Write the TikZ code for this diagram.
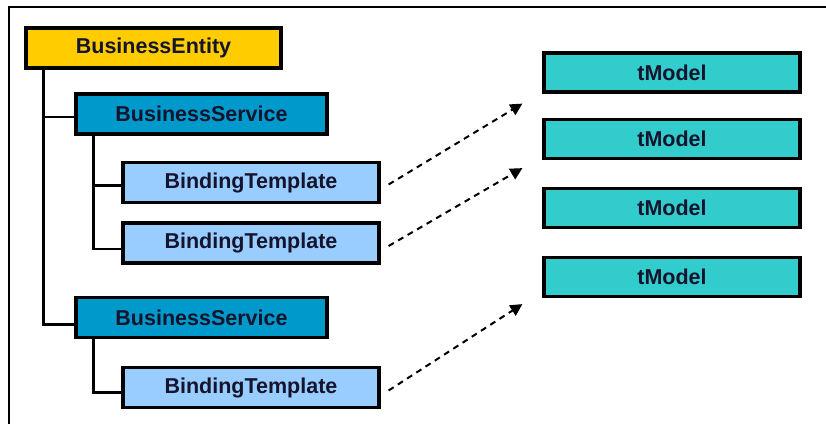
\documentclass[tikz,border=0pt]{standalone}
\usepackage{fontspec}
\setmainfont{Liberation Sans}
\usetikzlibrary{arrows.meta}

\definecolor{entityfill}{RGB}{255,204,0}
\definecolor{servicefill}{RGB}{0,153,204}
\definecolor{bindingfill}{RGB}{153,204,255}
\definecolor{tmodelfill}{RGB}{51,204,204}
\definecolor{labeltext}{RGB}{20,20,45}

\begin{document}
\begin{tikzpicture}[x=1pt,y=-1pt,
  box/.style={draw=black,line width=3.2pt,minimum height=40pt,inner sep=0pt,
    text=labeltext,font=\fontsize{21.5}{24}\selectfont\bfseries},
  entity/.style={box,fill=entityfill,minimum width=255pt},
  service/.style={box,fill=servicefill,minimum width=251pt},
  binding/.style={box,fill=bindingfill,minimum width=256pt},
  tmodel/.style={box,fill=tmodelfill,minimum width=256pt,minimum height=39pt},
  tree/.style={line width=2.6pt},
  ref/.style={line width=2pt,dash pattern=on 6pt off 5pt,
    -{Triangle[length=12pt,width=12pt]}}]

\useasboundingbox (0,0) rectangle (826,424);

% frame
\draw[line width=2pt] (826,7) -- (9,7) -- (9,424);

\node[entity] (be) at (153.5,48) {BusinessEntity};

\node[service] (bs1) at (201.5,114) {BusinessService};
\node[binding] (bt1) at (251,182.5) {BindingTemplate};
\node[binding] (bt2) at (251,243) {BindingTemplate};

\node[service] (bs2) at (201.5,317.5) {BusinessService};
\node[binding] (bt3) at (251,387.5) {BindingTemplate};

\node[tmodel] (tm1) at (672,72.5) {tModel};
\node[tmodel] (tm2) at (672,139) {tModel};
\node[tmodel] (tm3) at (672,208) {tModel};
\node[tmodel] (tm4) at (672,277) {tModel};

% tree
\draw[tree] ([xshift=19pt]be.south west) |- ([yshift=-3pt]bs1.west);
\draw[tree] ([xshift=19pt]be.south west) |- ([yshift=-7pt]bs2.west);
\draw[tree] ([xshift=19pt]bs1.south west) |- ([yshift=-3pt]bt1.west);
\draw[tree] ([xshift=19pt]bs1.south west) |- ([yshift=-6pt]bt2.west);
\draw[tree] ([xshift=19pt]bs2.south west) |- ([yshift=-5pt]bt3.west);

% references
\draw[ref] ([shift={(8pt,-2pt)}]bt1.east) -- ([shift={(-20pt,-10pt)}]tm1.south west);
\draw[ref] ([shift={(8pt,-3pt)}]bt2.east) -- ([shift={(-20pt,-8pt)}]tm2.south west);
\draw[ref] ([shift={(8pt,-3pt)}]bt3.east) -- ([shift={(-20pt,-6pt)}]tm4.south west);

\end{tikzpicture}
\end{document}
